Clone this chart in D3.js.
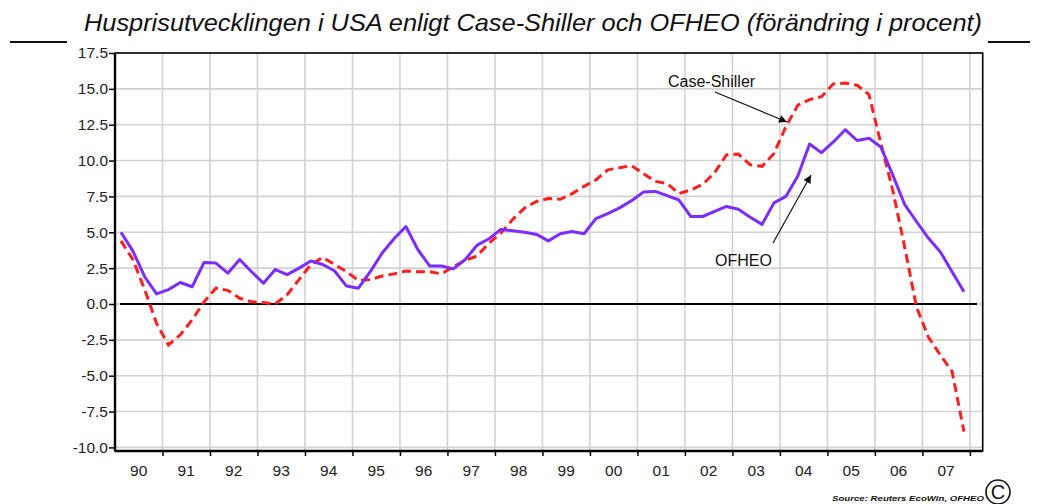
<!DOCTYPE html>
<html><head><meta charset="utf-8">
<script src="https://cdn.jsdelivr.net/npm/d3@7"></script>
<style>
body{margin:0;background:#fff;}
svg{display:block;font-family:"Liberation Sans",Arial,sans-serif;}
</style></head>
<body><svg id="c" width="1044" height="504"></svg>
<script>
const title = "Husprisutvecklingen i USA enligt Case-Shiller och OFHEO (förändring i procent)";
const yearLabels = ["90","91","92","93","94","95","96","97","98","99","00","01","02","03","04","05","06","07"];
const yTicks = [17.5,15.0,12.5,10.0,7.5,5.0,2.5,0.0,-2.5,-5.0,-7.5,-10.0];
// quarterly values 1990Q1 .. 2007Q4
const ofheo = [
 5.0,3.7,1.9,0.7, 1.0,1.5,1.2,2.9, 2.85,2.15,3.1,2.25, 1.45,2.4,2.05,2.5,
 3.0,2.75,2.3,1.25, 1.1,2.25,3.55,4.55, 5.4,3.8,2.65,2.65, 2.45,3.1,4.1,4.55,
 5.2,5.1,5.0,4.85, 4.4,4.9,5.05,4.9, 5.95,6.3,6.7,7.2, 7.8,7.85,7.55,7.25,
 6.1,6.1,6.45,6.8, 6.6,6.05,5.55,7.05, 7.5,8.9,11.15,10.55, 11.3,12.15,11.4,11.55,
 10.95,9.0,6.95,5.75, 4.6,3.65,2.25,0.85
];
const caseShiller = [
 4.4,3.1,1.0,-1.35, -2.85,-2.15,-1.1,0.15, 1.1,0.95,0.4,0.15, 0.1,0.0,0.65,1.7,
 2.75,3.25,2.75,2.25, 1.65,1.7,1.95,2.1, 2.3,2.25,2.25,2.1, 2.6,3.05,3.35,4.25,
 4.95,5.9,6.7,7.15, 7.35,7.3,7.7,8.2, 8.65,9.35,9.5,9.65, 9.1,8.55,8.4,7.7,
 7.95,8.35,9.15,10.4, 10.45,9.7,9.6,10.5, 12.35,13.85,14.25,14.45, 15.35,15.4,15.25,14.6,
 11.2,7.95,4.0,-0.2, -2.3,-3.55,-4.7,-8.9
];
const startYear = 1990;

const svg = d3.select("#c");
const L = 115, R = 982.7, T = 53, B = 451;
const x = d3.scaleLinear().domain([1990, 2008.27]).range([L, R]);
const y = d3.scaleLinear().domain([-10.25, 17.5]).range([B, T]);
const qx = i => x(startYear + Math.floor(i/4) + ((i%4)+0.5)/4);

// title
svg.append("text").attr("x",533).attr("y",31).attr("text-anchor","middle")
  .attr("font-size",24).attr("font-style","italic").attr("fill","#111")
  .attr("textLength",898).attr("lengthAdjust","spacingAndGlyphs").text(title);
svg.append("line").attr("x1",10).attr("x2",67).attr("y1",42).attr("y2",42).attr("stroke","#111").attr("stroke-width",2);
svg.append("line").attr("x1",988).attr("x2",1030).attr("y1",42).attr("y2",42).attr("stroke","#111").attr("stroke-width",2);

// grid
const years = d3.range(1991, 2009);
svg.append("g").selectAll("line").data(years).join("line")
  .attr("x1",d=>x(d)).attr("x2",d=>x(d)).attr("y1",T).attr("y2",B)
  .attr("stroke","#d2d2d2").attr("stroke-width",1.6);
svg.append("g").selectAll("line").data(yTicks).join("line")
  .attr("x1",L).attr("x2",R).attr("y1",d=>y(d)).attr("y2",d=>y(d))
  .attr("stroke","#d2d2d2").attr("stroke-width",1.6);

// zero line
svg.append("line").attr("x1",120).attr("x2",977).attr("y1",y(0)).attr("y2",y(0))
  .attr("stroke","#000").attr("stroke-width",2);

// y axis
const fmt = d => d.toFixed(1);
const yAxis = d3.axisLeft(y).tickValues(yTicks).tickFormat(fmt).tickSize(6).tickPadding(1);
const gy = svg.append("g").attr("transform",`translate(${L},0)`).call(yAxis);
gy.select(".domain").remove();
gy.selectAll("line").attr("stroke","#000").attr("stroke-width",1.5);
gy.selectAll("text").attr("font-size",15.5).attr("fill","#222").attr("font-family","Liberation Sans, Arial, sans-serif");

// x axis
const xAxis = d3.axisBottom(x).tickValues(years).tickFormat("").tickSize(5);
const gx = svg.append("g").attr("transform",`translate(0,${B})`).call(xAxis);
gx.select(".domain").remove();
gx.selectAll("line").attr("stroke","#000").attr("stroke-width",1.5);
svg.append("g").selectAll("text").data(yearLabels).join("text")
  .attr("x",(d,i)=>x(startYear+i+0.5)).attr("y",476).attr("text-anchor","middle")
  .attr("font-size",15.5).attr("fill","#222").text(d=>d);

// box
svg.append("rect").attr("x",L).attr("y",T).attr("width",R-L).attr("height",B-T)
  .attr("fill","none").attr("stroke","#000").attr("stroke-width",1.6);
svg.append("line").attr("x1",L).attr("x2",L).attr("y1",T).attr("y2",B).attr("stroke","#000").attr("stroke-width",2.4);
svg.append("line").attr("x1",L).attr("x2",R).attr("y1",B).attr("y2",B).attr("stroke","#000").attr("stroke-width",2.4);

// lines
const line = d3.line().x((d,i)=>qx(i)).y(d=>y(d));
svg.append("path").datum(caseShiller).attr("d",line).attr("fill","none")
  .attr("stroke","#ff1f1f").attr("stroke-width",3).attr("stroke-dasharray","9,5");
svg.append("path").datum(ofheo).attr("d",line).attr("fill","none")
  .attr("stroke","#7b2dff").attr("stroke-width",3).attr("stroke-linejoin","round");

// annotations
const defs = svg.append("defs");
defs.append("marker").attr("id","ah").attr("viewBox","0 0 10 10").attr("refX",10).attr("refY",5)
  .attr("markerWidth",12).attr("markerHeight",8).attr("markerUnits","userSpaceOnUse").attr("orient","auto")
  .append("path").attr("d","M0,0 L10,5 L0,10 z").attr("fill","#111");
svg.append("text").attr("x",668).attr("y",87).attr("font-size",16).attr("fill","#111").text("Case-Shiller");
svg.append("line").attr("x1",715).attr("y1",92).attr("x2",787).attr("y2",122)
  .attr("stroke","#111").attr("stroke-width",1.2).attr("marker-end","url(#ah)");
svg.append("text").attr("x",715).attr("y",266).attr("font-size",16).attr("fill","#111").text("OFHEO");
svg.append("line").attr("x1",773).attr("y1",243).attr("x2",811).attr("y2",175)
  .attr("stroke","#111").attr("stroke-width",1.2).attr("marker-end","url(#ah)");

// source
svg.append("text").attr("x",832).attr("y",501).attr("font-size",8).attr("font-style","italic").attr("font-weight","bold")
  .attr("fill","#111").attr("textLength",152).attr("lengthAdjust","spacingAndGlyphs").text("Source: Reuters EcoWin, OFHEO");
svg.append("circle").attr("cx",998).attr("cy",492).attr("r",12).attr("fill","none").attr("stroke","#111").attr("stroke-width",1.6);
svg.append("text").attr("x",998).attr("y",499).attr("text-anchor","middle").attr("font-size",20).attr("fill","#111").text("C");
</script></body></html>
